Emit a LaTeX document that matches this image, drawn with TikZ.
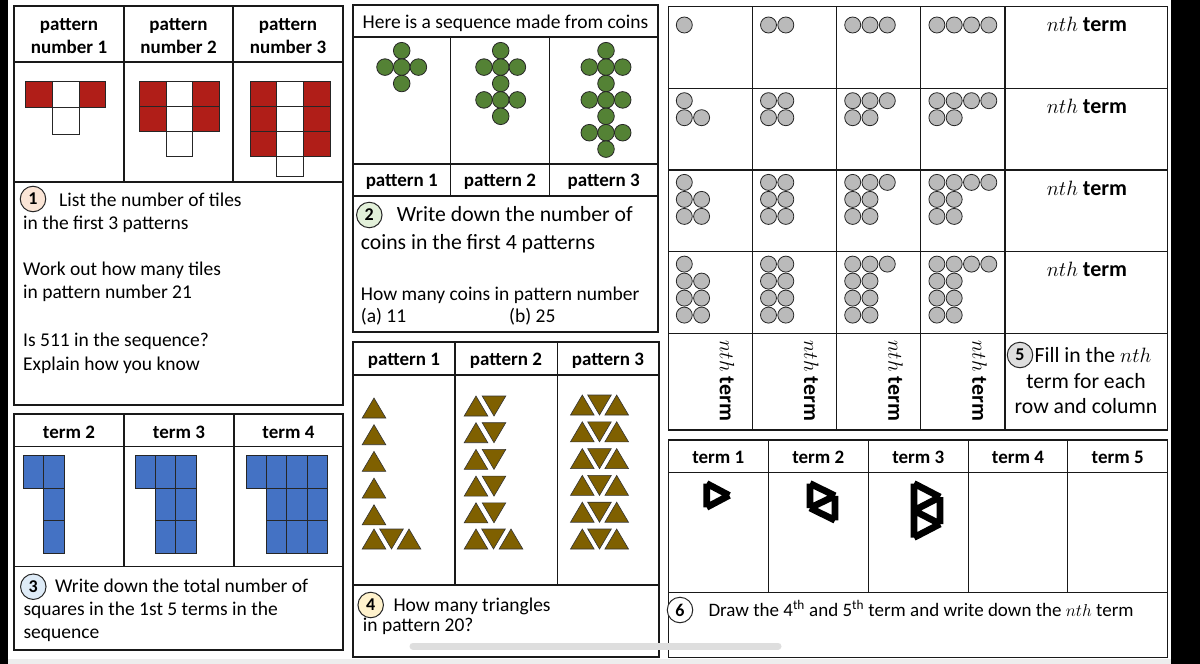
\documentclass[tikz,border=0pt]{standalone}
\usepackage{fontspec}
\setmainfont{Carlito}
\usetikzlibrary{calc}
\definecolor{tilered}{RGB}{176,30,24}
\definecolor{coingreen}{RGB}{84,130,53}
\definecolor{coingray}{RGB}{186,186,186}
\definecolor{triolive}{RGB}{127,96,0}
\definecolor{sqblue}{RGB}{68,114,196}
\definecolor{numpeach}{RGB}{251,229,214}
\definecolor{numgreen}{RGB}{226,240,217}
\definecolor{numblue}{RGB}{222,235,247}
\definecolor{numyellow}{RGB}{255,242,204}
\definecolor{numgray}{RGB}{222,222,222}
\newcommand{\sheetfont}{\fontsize{19.5}{23}\selectfont}
\newcommand{\sheetbig}{\fontsize{21.7}{26}\selectfont}
\newcommand{\sheethead}{\bfseries\fontsize{19}{23}\selectfont}
\newcommand{\sheetnth}{\fontsize{22}{26}\selectfont}
% triangles of question 4
\newcommand{\uptri}[2]{\path[tri] ({#1-11.8},{#2+20}) -- ({#1+11.8},{#2+20}) -- ({#1},{#2}) -- cycle;}
\newcommand{\dntri}[2]{\path[tri] ({#1-11.8},{#2}) -- ({#1+11.8},{#2}) -- ({#1},{#2+20}) -- cycle;}
\tikzset{
  panel/.style={draw=black!90, line width=1.3},
  txt/.style={anchor=base west, inner sep=0pt, font=\sheetfont},
  hd/.style={anchor=base, inner sep=0pt, font=\sheethead},
  qnum/.style={circle, draw=black!85, line width=1, minimum size=25.5, inner sep=0pt, font=\bfseries\fontsize{18}{18}\selectfont},
  tile/.style={draw=black!85, line width=1},
  coin/.style={draw=black!85, line width=0.8},
  tri/.style={fill=triolive, draw=black!80, line width=0.6},
  sq/.style={fill=sqblue, draw=black!85, line width=0.9},
  edgebar/.style={line width=6.7, line cap=butt}
}

\begin{document}
\begin{tikzpicture}[x=1pt, y=-1pt]
            \useasboundingbox(0,0)rectangle(1200,664);
            \path[fill=white](0,0)rectangle(1200,664);
            % screen edges
            \path[fill=black](0,0)rectangle(8,664);
            \path[fill=black](1171,0)rectangle(1200,664);
            \path[fill=black!7](8,659)rectangle(1171,664);

            % panel 1 : tiles
            \path[panel](14,6)rectangle(343,405);
            \path[panel](14,62)to(343,62);
            \path[panel](14,182)to(343,182);
            \path[panel](124,6)to(124,182);
            \path[panel](233,6)to(233,182);
            \foreach \cx/\k in {69/1, 178.5/2, 288/3}{
              \node[hd](hp\k)at(\cx,30){pattern};
              \node[hd](hn\k)at(\cx,53){number \k};
            }
            \foreach \p/\xo/\th in {1/25.7/26.7, 2/139.3/25, 3/250/25}{
              \foreach \r in {1,...,\p}{
                \pgfmathsetmacro{\ty}{81+(\r-1)*\th}
                \path[tile, fill=tilered](\xo,\ty)rectangle++(26.7,\th);
                \path[tile]({\xo+26.7},\ty)rectangle++(26.7,\th);
                \path[tile, fill=tilered]({\xo+53.4},\ty)rectangle++(26.7,\th);
              }
              \pgfmathsetmacro{\ty}{81+\p*\th}
              \path[tile]({\xo+26.7},\ty)rectangle++(26.7,{min(\th,176.7-\ty)});
            }
            \node[qnum, fill=numpeach](q1)at(33,199){1};
            \node[txt](q1a)at(59,206.5){List the number of tiles};
            \node[txt](q1b)at(23,229.5){in the first 3 patterns};
            \node[txt](q1c)at(23,275){Work out how many tiles};
            \node[txt](q1d)at(23,298.5){in pattern number 21};
            \node[txt](q1e)at(23,346.5){Is 511 in the sequence?};
            \node[txt](q1f)at(23,370){Explain how you know};

            % panel 2 : coins
            \path[panel](353,5)rectangle(658,332);
            \path[panel](353,37)to(658,37);
            \path[panel](353,164)to(658,164);
            \path[panel](353,196)to(658,196);
            \path[panel](450.7,37)to(450.7,196);
            \path[panel](549.3,37)to(549.3,196);
            \node[txt, anchor=base](coinhd)at(505.5,28.5){Here is a sequence made from coins};
            \foreach \p/\cx in {1/401.7, 2/500.7, 3/606}{
              \foreach \k in {1,...,\p}{
                \pgfmathsetmacro{\cy}{50.7+(2*\k-2)*16.4}
                \path[coin, fill=coingreen](\cx,\cy)circle(8.3pt);
                \foreach \dx in {-16.7,0,16.7}
                  \path[coin, fill=coingreen]({\cx+\dx},{\cy+16.4})circle(8.3pt);
              }
              \path[coin, fill=coingreen](\cx,{50.7+2*\p*16.4})circle(8.3pt);
            }
            \node[hd](cp1)at(401.8,186.7){pattern 1};
            \node[hd](cp2)at(500,186.7){pattern 2};
            \node[hd](cp3)at(603.7,186.7){pattern 3};
            \node[qnum, fill=numgreen](q2)at(369.3,215){2};
            \node[txt, font=\sheetbig](q2a)at(396.7,221){Write down the number of};
            \node[txt, font=\sheetbig](q2b)at(360.7,249.3){coins in the first 4 patterns};
            \node[txt](q2c)at(360.7,300){How many coins in pattern number};
            \node[txt](q2d)at(360.7,322){(a) 11};
            \node[txt](q2e)at(509,322){(b) 25};

            % panel 3 : triangles
            \path[panel](353,342)rectangle(659,657);
            \path[panel](353,375)to(659,375);
            \path[panel](353,585)to(659,585);
            \path[panel](455,342)to(455,585);
            \path[panel](557.3,342)to(557.3,585);
            \node[hd](tp1)at(404,365){pattern 1};
            \node[hd](tp2)at(506,365){pattern 2};
            \node[hd](tp3)at(608,365){pattern 3};
            \foreach \k in {0,...,4}{\uptri{374}{398+26.7*\k}}
            \uptri{374}{529}\dntri{391.5}{529}\uptri{409}{529}
            \foreach \k in {0,...,4}{\uptri{476}{396+26.7*\k}\dntri{494}{396+26.7*\k}}
            \uptri{476}{529}\dntri{493.5}{529}\uptri{511}{529}
            \foreach \k in {0,...,5}{\uptri{582.3}{395+26.8*\k}\dntri{599.5}{395+26.8*\k}\uptri{616.7}{395+26.8*\k}}
            \node[qnum, fill=numyellow](q4)at(370.7,605){4};
            \node[txt](q4a)at(393.3,611){How many triangles};
            \node[txt](q4b)at(362.7,631){in pattern 20?};

            % panel 4 : blue squares
            \path[panel](14,414)rectangle(343,650);
            \path[panel](14,446.7)to(343,446.7);
            \path[panel](14,566.7)to(343,566.7);
            \path[panel](124,414)to(124,566.7);
            \path[panel](234,414)to(234,566.7);
            \node[hd](ts2)at(69,438.3){term 2};
            \node[hd](ts3)at(179,438.3){term 3};
            \node[hd](ts4)at(288.5,438.3){term 4};
            \foreach \n/\xo in {2/23.3, 3/135, 4/246}{
              \path[sq](\xo,455.7)rectangle++(20.4,32.5);
              \foreach \c in {2,...,\n}
                \foreach \r in {0,1,2}
                  \path[sq]({\xo+(\c-1)*20.4},{455.7+\r*32.5})rectangle++(20.4,32.5);
            }
            \node[qnum, fill=numblue](q3)at(33.3,586.7){3};
            \node[txt](q3a)at(55,592.5){Write down the total number of};
            \node[txt](q3b)at(23.3,615){squares in the 1st 5 terms in the};
            \node[txt](q3c)at(23.3,638){sequence};

            % panel 5 : grid of coins
            \path[panel](668.3,6.7)rectangle(1167.7,430);
            \foreach \gy in {88.3,170,251.7,333.3}
              \path[panel](668.3,\gy)to(1167.7,\gy);
            \foreach \gx in {752.3,836.7,920.7,1005}
              \path[panel](\gx,6.7)to(\gx,430);
            \foreach \i in {1,...,4}{
              \foreach \j in {1,...,4}{
                \pgfmathsetmacro{\lx}{684.3+84.2*(\j-1)}
                \pgfmathsetmacro{\ty}{\i==1 ? 25 : 6.7+81.7*(\i-1)+12.3}
                \foreach \k in {1,...,\j}
                  \path[coin, fill=coingray]({\lx+17.3*(\k-1)},\ty)circle(8pt);
                \ifnum\i>1
                  \foreach \r in {2,...,\i}{
                    \path[coin, fill=coingray](\lx,{\ty+17*(\r-1)})circle(8pt);
                    \path[coin, fill=coingray]({\lx+17.3},{\ty+17*(\r-1)})circle(8pt);
                  }
                \fi
              }
              \node[anchor=base, inner sep=0pt, font=\sheetnth](nr\i)at(1087,{31.7+81.7*(\i-1)}){$nth$ \textbf{term}};
            }
            \foreach \j in {1,...,4}
              \node[rotate=-90, inner sep=0pt, font=\sheetnth](nc\j)at({727+84.2*(\j-1)},381){$nth$ \textbf{term}};
            \node[qnum, fill=numgray](q5)at(1020,355){5};
            \node[txt, font=\sheetbig](q5a)at(1034.5,362.7){Fill in the $nth$};
            \node[txt, font=\sheetbig, anchor=base](q5b)at(1086,388.3){term for each};
            \node[txt, font=\sheetbig, anchor=base](q5c)at(1086,413.3){row and column};

            % panel 6 : bar triangles
            \path[panel](668.3,440)rectangle(1167.7,657.3);
            \path[panel](668.3,472.3)to(1167.7,472.3);
            \path[panel](668.3,592.3)to(1167.7,592.3);
            \foreach \gx in {768.3,868.3,968.3,1067.7}
              \path[panel](\gx,440)to(\gx,592.3);
            \foreach \k/\cx in {1/718.3, 2/818.3, 3/918.3, 4/1018, 5/1117.7}
              \node[hd](tm\k)at(\cx,463.3){term \k};
            \foreach \t/\ax/\s/\h in {1/706.7/23.8/22.5, 2/810/24.5/25, 3/914/27/26}{
              \coordinate(A\t0)at(\ax,483.5);
              \coordinate(A\t1)at(\ax,{483.5+\s});
              \coordinate(A\t2)at(\ax,{483.5+2*\s});
              \coordinate(B\t0)at({\ax+\h},{483.5+0.5*\s});
              \coordinate(B\t1)at({\ax+\h},{483.5+1.5*\s});
            }
            % term 1
            \path[draw, edgebar](A10)to(A11) (A11)to(B10) (B10)to(A10);
            % term 2
            \path[draw, edgebar](A20)to(A21) (A21)to(B20) (B20)to(A20) (B20)to(B21) (B21)to(A21);
            % term 3
            \path[draw, edgebar](A30)to(A31) (A31)to(B30) (B30)to(A30) (B30)to(B31) (B31)to(A31) (A31)to(A32) (A32)to(B31);
            \node[qnum, fill=white](q6)at(680,610){6};
            \node[txt, font=\fontsize{19}{23}\selectfont](q6a)at(708.3,616){Draw the 4\textsuperscript{th} and 5\textsuperscript{th} term and write down the $nth$ term};

            % scroll bar
            \path[draw=black!13, line width=7, line cap=round](413,646)to(778,646);
        \end{tikzpicture}
\end{document}
